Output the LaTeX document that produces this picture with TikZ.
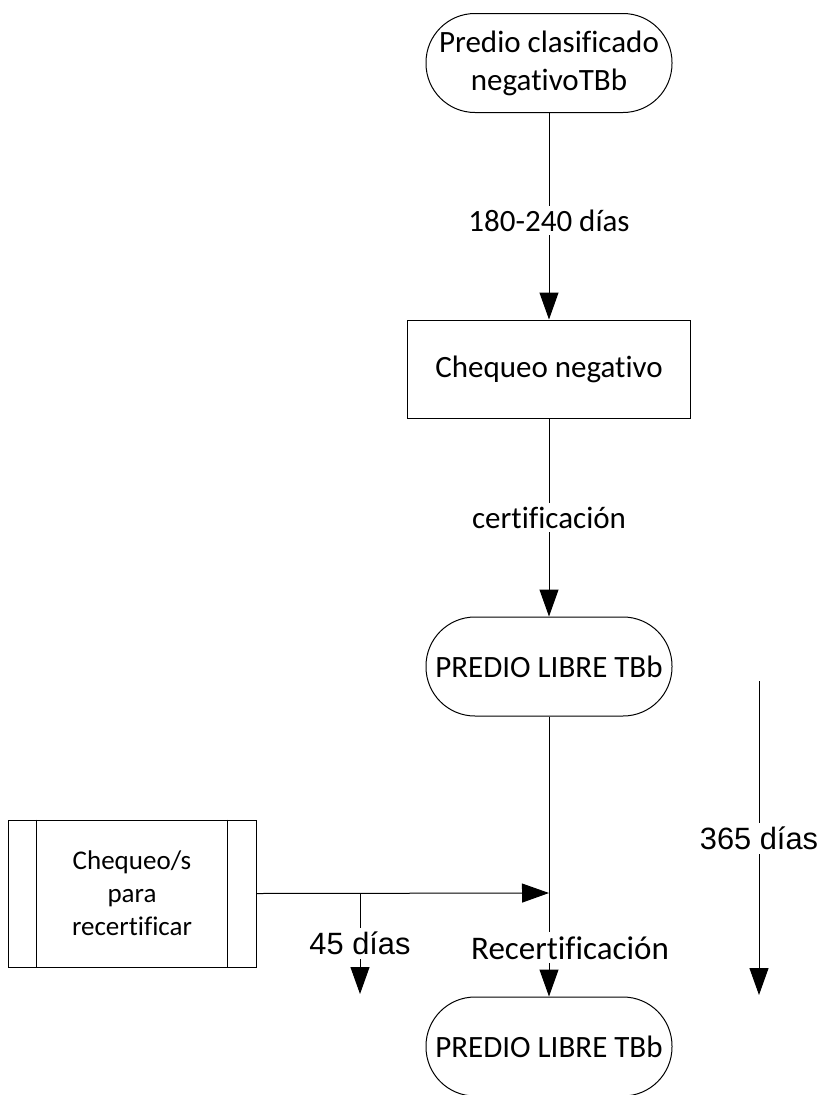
\documentclass[tikz,border=0pt]{standalone}
\usepackage{fontspec}
\setmainfont[Ligatures=NoCommon]{Carlito}
\newfontfamily\arialf{Liberation Sans}
\usetikzlibrary{arrows.meta}
\begin{document}
\begin{tikzpicture}[x=1pt,y=-1pt,
  line width=1pt,
  term/.style={draw, rounded corners=49pt, minimum width=246pt, minimum height=99pt, inner sep=0pt, align=center, font=\fontsize{31pt}{38pt}\selectfont},
  proc/.style={draw, minimum width=283pt, minimum height=98pt, inner sep=0pt, font=\fontsize{31pt}{37pt}\selectfont},
  sub/.style={draw, minimum width=248pt, minimum height=147pt, inner sep=0pt, align=center, font=\fontsize{27pt}{33pt}\selectfont},
  lbl/.style={fill=white, inner sep=4pt, font=\fontsize{31pt}{37pt}\selectfont},
  rlbl/.style={fill=white, inner sep=4pt, font=\fontsize{33pt}{37pt}\selectfont},
  albl/.style={fill=white, inner sep=4pt, font=\arialf\fontsize{30.8pt}{37pt}\selectfont},
  arr/.style={-{Triangle[length=27pt,width=19pt]}},
]
\useasboundingbox (0,0) rectangle (825,1095);
\node[term] (t1) at (549,63) {Predio clasificado\\negativoTBb};
\node[proc] (p1) at (549,369) {Chequeo negativo};
\node[term] (t2) at (549,666.5) {PREDIO LIBRE TBb};
\node[term] (t3) at (549,1046.5) {PREDIO LIBRE TBb};
\node[sub] (s1) at (132,893.5) {Chequeo/s\\para\\recertificar};
\draw ([xshift=29pt]s1.north west) -- ([xshift=29pt]s1.south west);
\draw ([xshift=-29pt]s1.north east) -- ([xshift=-29pt]s1.south east);
\draw[arr] (t1.south) -- node[lbl,pos=0.52]{180-240 días} (p1.north);
\draw[arr] (p1.south) -- node[lbl]{certificación} (t2.north);
\draw[arr] (t2.south) -- node[rlbl,pos=0.826,xshift=21pt]{Recertificación} (t3.north);
\coordinate (j) at (549,893);
\draw[arr] (s1.east) -- (j);
\coordinate (b1) at (360,893);
\coordinate (b2) at (360,994);
\draw[arr] (b1) -- node[albl]{45 días} (b2);
\coordinate (r1) at (759,681);
\coordinate (r2) at (759,995);
\draw[arr] (r1) -- node[albl]{365 días} (r2);
\end{tikzpicture}
\end{document}
